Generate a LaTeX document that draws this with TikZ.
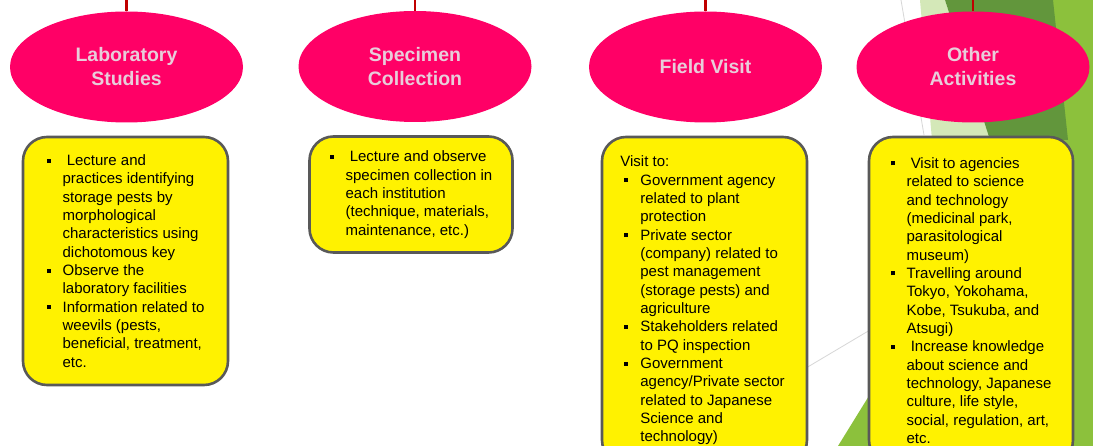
\documentclass[tikz,border=0pt]{standalone}
\usepackage{fontspec}
\setmainfont{Liberation Sans}
\usepackage{xcolor}
\usepackage{tikz}
\usetikzlibrary{positioning, shapes.geometric}

\definecolor{pinkfill}{RGB}{255,0,102}
\definecolor{pinktext}{RGB}{232,205,218}
\definecolor{stemred}{RGB}{192,0,0}
\definecolor{boxgrey}{RGB}{89,89,89}
\definecolor{leafdark}{RGB}{98,150,60}
\definecolor{leaflight}{RGB}{140,193,60}
\definecolor{leafpale}{RGB}{212,232,184}
\definecolor{decogrey}{RGB}{215,215,215}

\newcommand{\sqb}{\makebox[16pt][l]{\rule[3pt]{4pt}{4pt}}}
\newcommand{\hang}{\hspace*{16pt}}

\begin{document}
\begin{tikzpicture}[
    x=1pt, y=-1pt,
    topic/.style={
        ellipse, fill=pinkfill, inner sep=0pt,
        minimum width=233pt, minimum height=111pt,
        align=center, text=pinktext,
        font=\fontsize{19.5}{24}\selectfont\bfseries
    },
    infobox/.style={
        rectangle, draw=boxgrey, line width=2.6pt, fill=yellow,
        rounded corners=24pt, minimum width=205pt,
        align=left, font=\fontsize{15}{18.33}\selectfont
    },
    stem/.style={draw=stemred, line width=2.5pt},
    decoline/.style={draw=decogrey, line width=0.8pt}
]
    \clip (0,0) rectangle (1093,446);
    \fill[white] (0,0) rectangle (1093,446);

    % slide background
    \fill[leaflight] (1040,0) -- (1093,0) -- (1093,446) -- (838,446) -- (990,200) -- cycle;
    \fill[leafpale] (920,0) -- (945,0) -- (990,140) -- (932,140) -- cycle;
    \fill[leafdark] (945,0) -- (1053,0) -- (1068,140) -- (990,140) -- cycle;
    \draw[decoline] (901,0) -- (924,135);
    \draw[decoline] (806,368) -- (870,330);

    \node[topic] (lab) at (126.5,67) {Laboratory\\Studies};
    \node[topic] (spec) at (415,66.5) {Specimen\\Collection};
    \node[topic] (field) at (705.5,67) {Field Visit};
    \node[topic] (other) at (973,67) {Other\\Activities};

    \foreach \n in {lab, spec, field, other}
        \coordinate (\n-top) at (\n.north |- 0,0);
    \foreach \n in {lab, spec, field, other}
        \draw[stem] (\n-top) -- (\n.north);

    \node[infobox, minimum height=248pt, below=13pt of lab, xshift=-1pt] (labbox) {%
        \sqb\ Lecture and\\
        \hang practices identifying\\
        \hang storage pests by\\
        \hang morphological\\
        \hang characteristics using\\
        \hang dichotomous key\\
        \sqb Observe the\\
        \hang laboratory facilities\\
        \sqb Information related to\\
        \hang weevils (pests,\\
        \hang beneficial, treatment,\\
        \hang etc.};
    \node[infobox, minimum width=203pt, minimum height=116pt, below=13pt of spec, xshift=-4pt] (specbox) {%
        \sqb\ Lecture and observe\\
        \hang specimen collection in\\
        \hang each institution\\
        \hang (technique, materials,\\
        \hang maintenance, etc.)};
    \node[infobox, minimum height=327pt, below=13pt of field, xshift=-1pt] (fieldbox) {%
        \hspace*{-4pt}Visit to:\\
        \sqb Government agency\\
        \hang related to plant\\
        \hang protection\\
        \sqb Private sector\\
        \hang (company) related to\\
        \hang pest management\\
        \hang (storage pests) and\\
        \hang agriculture\\
        \sqb Stakeholders related\\
        \hang to PQ inspection\\
        \sqb Government\\
        \hang agency/Private sector\\
        \hang related to Japanese\\
        \hang Science and\\
        \hang technology)};
    \node[infobox, minimum width=204pt, minimum height=327pt, below=13pt of other, xshift=-2pt] (otherbox) {%
        \sqb\ Visit to agencies\\
        \hang related to science\\
        \hang and technology\\
        \hang (medicinal park,\\
        \hang parasitological\\
        \hang museum)\\
        \sqb Travelling around\\
        \hang Tokyo, Yokohama,\\
        \hang Kobe, Tsukuba, and\\
        \hang Atsugi)\\
        \sqb\ Increase knowledge\\
        \hang about science and\\
        \hang technology, Japanese\\
        \hang culture, life style,\\
        \hang social, regulation, art,\\
        \hang etc.};
\end{tikzpicture}
\end{document}
